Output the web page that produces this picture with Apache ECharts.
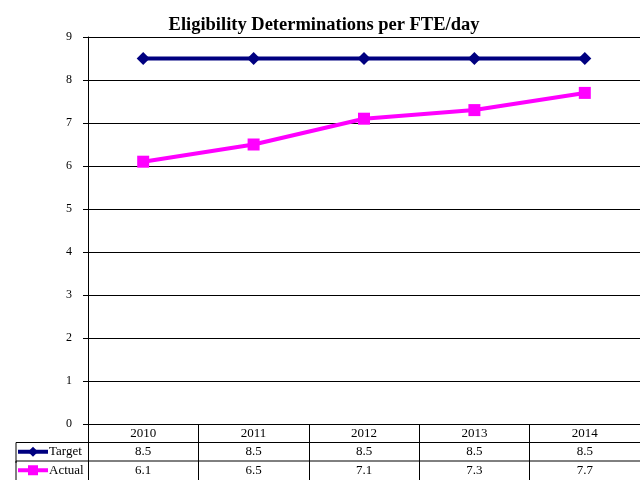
<!DOCTYPE html>
<html>
<head>
<meta charset="utf-8">
<script src="https://cdn.jsdelivr.net/npm/echarts@6/dist/echarts.min.js"></script>
<style>html,body{margin:0;padding:0;background:#fff}#c{width:640px;height:480px}</style>
</head>
<body>
<div id="c"></div>
<script>
var title = 'Eligibility Determinations per FTE/day';
var categories = ['2010', '2011', '2012', '2013', '2014'];
var targetValues = [8.5, 8.5, 8.5, 8.5, 8.5];
var actualValues = [6.1, 6.5, 7.1, 7.3, 7.7];
var seriesNames = ['Target', 'Actual'];

(function () {
  var FONT = '"Liberation Serif", "Times New Roman", serif';
  var chart = echarts.init(document.getElementById('c'), null, {renderer: 'canvas'});
  var option = {
    animation: false,
    backgroundColor: '#ffffff',
    title: {
      text: title, left: 319, top: 11, textAlign: 'center',
      textStyle: {fontFamily: FONT, fontSize: 18.5, fontWeight: 'bold', color: '#000'}
    },
    grid: {left: 88, right: 0, top: 37, bottom: 56, containLabel: false},
    xAxis: {
      type: 'category', data: categories, boundaryGap: true,
      axisLine: {lineStyle: {color: '#000', width: 1}},
      axisTick: {show: true, length: 56, lineStyle: {color: '#000', width: 1}},
      axisLabel: {fontFamily: FONT, fontSize: 13, color: '#000', margin: 3}
    },
    yAxis: {
      type: 'value', min: 0, max: 9, interval: 1,
      axisLine: {show: true, lineStyle: {color: '#000', width: 1}},
      axisTick: {show: true, length: 5, lineStyle: {color: '#000'}},
      axisLabel: {fontFamily: FONT, fontSize: 12, color: '#000', margin: 16},
      splitLine: {lineStyle: {color: '#000', width: 1}}
    },
    series: [
      {name: seriesNames[0], type: 'line', data: targetValues, symbol: 'diamond', symbolSize: 13,
       lineStyle: {color: '#000080', width: 4}, itemStyle: {color: '#000080'}},
      {name: seriesNames[1], type: 'line', data: actualValues, symbol: 'rect', symbolSize: 12,
       lineStyle: {color: '#FF00FF', width: 4}, itemStyle: {color: '#FF00FF'}}
    ]
  };
  chart.setOption(option);

  var y0 = chart.convertToPixel({yAxisIndex: 0}, 0);
  var rowH = 18.5;
  var els = [];
  var rows = [targetValues, actualValues];
  var colors = ['#000080', '#FF00FF'];
  for (var r = 0; r < 2; r++) {
    var rowTop = y0 + rowH * (r + 1);
    els.push({type: 'line', shape: {x1: 16, y1: rowTop, x2: 640, y2: rowTop}, style: {stroke: '#000', lineWidth: 1}});
    els.push({type: 'line', shape: {x1: 16, y1: rowTop, x2: 16, y2: rowTop + rowH + 2}, style: {stroke: '#000', lineWidth: 1}});
    var cy = rowTop + rowH / 2;
    els.push({type: 'line', shape: {x1: 18, y1: cy, x2: 48, y2: cy}, style: {stroke: colors[r], lineWidth: 4}});
    if (r === 0) {
      els.push({type: 'polygon', shape: {points: [[33, cy - 5], [38, cy], [33, cy + 5], [28, cy]]}, style: {fill: colors[r]}});
    } else {
      els.push({type: 'rect', shape: {x: 28, y: cy - 5, width: 10, height: 10}, style: {fill: colors[r]}});
    }
    els.push({type: 'text', x: 49, y: cy, style: {text: seriesNames[r], font: '13px ' + FONT, fill: '#000', verticalAlign: 'middle'}});
    for (var i = 0; i < categories.length; i++) {
      var cx = chart.convertToPixel({xAxisIndex: 0}, i);
      els.push({type: 'text', x: cx, y: cy, style: {text: rows[r][i].toFixed(1), font: '13px ' + FONT, fill: '#000', align: 'center', verticalAlign: 'middle'}});
    }
  }
  chart.setOption({graphic: {elements: els}});
})();
</script>
</body>
</html>
